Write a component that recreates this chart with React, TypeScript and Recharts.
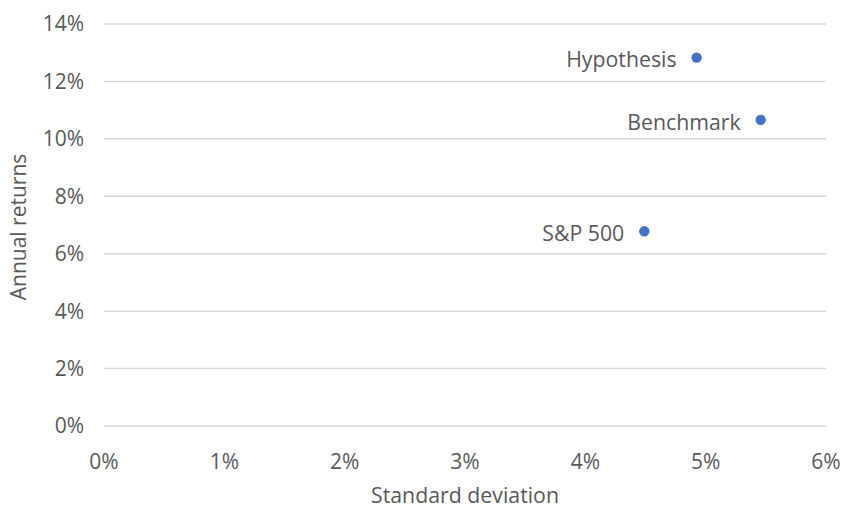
import React from "react";
import { ScatterChart, Scatter, XAxis, YAxis, CartesianGrid } from "recharts";

// Portfolios plotted as risk (standard deviation) vs. annual return
const portfolioNames = ["Hypothesis", "Benchmark", "S&P 500"];
const stdDeviation = [0.04925, 0.05457, 0.0449];
const annualReturns = [0.1283, 0.1066, 0.0678];

const xTicks = [0, 0.01, 0.02, 0.03, 0.04, 0.05, 0.06];
const yTicks = [0, 0.02, 0.04, 0.06, 0.08, 0.1, 0.12, 0.14];

const data = portfolioNames.map((name, i) => ({
  name,
  sd: stdDeviation[i],
  ret: annualReturns[i],
}));

const FONT = "'Open Sans', sans-serif";
const TEXT = "#595959";
const DOT = "#4472C4";

const pct = (v: number) => `${Math.round(v * 100)}%`;

const PointWithLabel = (props: any) => {
  const { cx, cy, payload } = props;
  return (
    <g>
      <circle cx={cx} cy={cy} r={5.2} fill={DOT} />
      <text
        x={cx - 20}
        y={cy + 4}
        textAnchor="end"
        dominantBaseline="middle"
        fontFamily={FONT}
        fontSize={21.3}
        fill={TEXT}
      >
        {payload.name}
      </text>
    </g>
  );
};

const YTitle = (props: any) => {
  const { viewBox } = props;
  const x = 20;
  const y = viewBox.y + viewBox.height / 2 + 2;
  return (
    <text
      x={x}
      y={y}
      transform={`rotate(-90, ${x}, ${y})`}
      textAnchor="middle"
      dominantBaseline="middle"
      fontFamily={FONT}
      fontSize={21}
      fill={TEXT}
    >
      Annual returns
    </text>
  );
};

export default function App() {
  return (
    <div style={{ position: "absolute", left: 0, top: 0, width: 843, height: 511 }}>
      <ScatterChart
        width={843}
        height={511}
        margin={{ top: 24, right: 17, bottom: 0, left: 0 }}
      >
        <CartesianGrid vertical={false} stroke="#d9d9d9" strokeWidth={1.5} />
        <XAxis
          type="number"
          dataKey="sd"
          domain={[0, 0.06]}
          ticks={xTicks}
          tickFormatter={pct}
          axisLine={false}
          tickLine={false}
          tickSize={0}
          tickMargin={28}
          height={85}
          interval={0}
          tick={{ fontFamily: FONT, fontSize: 21, fill: TEXT }}
          label={{
            value: "Standard deviation",
            position: "insideBottom",
            offset: 8,
            style: { fontFamily: FONT, fontSize: 21.3, fill: TEXT },
          }}
        />
        <YAxis
          type="number"
          dataKey="ret"
          domain={[0, 0.14]}
          ticks={yTicks}
          tickFormatter={pct}
          axisLine={false}
          tickLine={false}
          tickSize={0}
          tickMargin={20}
          width={104}
          interval={0}
          tick={{ fontFamily: FONT, fontSize: 21, fill: TEXT }}
          label={<YTitle />}
        />
        <Scatter data={data} shape={PointWithLabel} isAnimationActive={false} />
      </ScatterChart>
    </div>
  );
}
